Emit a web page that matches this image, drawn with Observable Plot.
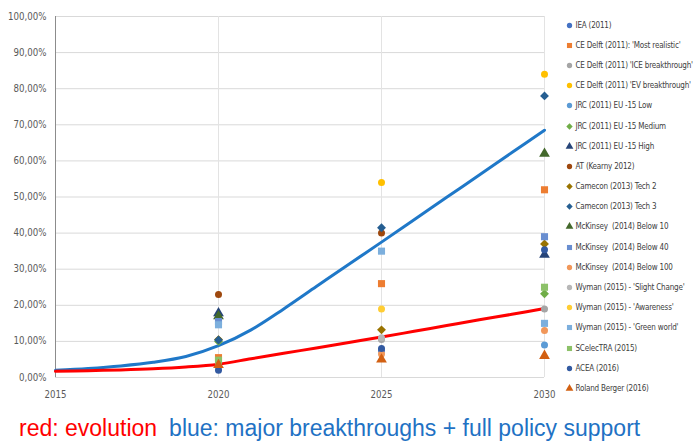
<!DOCTYPE html>
<html>
<head>
<meta charset="utf-8">
<script src="https://cdn.jsdelivr.net/npm/d3@7"></script>
<script src="https://cdn.jsdelivr.net/npm/@observablehq/plot@0.6"></script>
<style>
  body { margin: 0; background: #fff; }
  #wrap { position: relative; width: 694px; height: 441px; overflow: hidden; font-family: "DejaVu Sans Condensed", "DejaVu Sans", sans-serif; font-stretch: condensed; }
  #legend { position: absolute; left: 565px; top: 15px; }
  .row { height: 20.2px; display: flex; align-items: center; white-space: pre; font-size: 8px; letter-spacing: -0.2px; color: #404040; }
  .row svg { margin-right: 1.5px; flex: none; }
  #caption { position: absolute; left: 19px; top: 415px; font-family: "Liberation Sans", Arial, sans-serif; font-stretch: normal; font-size: 23px; line-height: 26px; white-space: nowrap; }
</style>
</head>
<body>
<div id="wrap">
  <div id="chart"></div>
  <div id="legend"></div>
  <div id="caption"><span style="color:#ff0000">red: evolution</span><span style="display:inline-block;width:12px"></span><span style="color:#1f72c4">blue: major breakthroughs + full policy support</span></div>
</div>
<script>
// ---- data ----
const pointYears = [2020, 2025, 2030];
const seriesNames = [
  "IEA (2011)",
  "CE Delft (2011): 'Most realistic'",
  "CE Delft (2011) 'ICE breakthrough'",
  "CE Delft (2011) 'EV breakthrough'",
  "JRC (2011) EU -15 Low",
  "JRC (2011) EU -15 Medium",
  "JRC (2011) EU -15 High",
  "AT (Kearny 2012)",
  "Camecon (2013) Tech 2",
  "Camecon (2013) Tech 3",
  "McKinsey  (2014) Below 10",
  "McKinsey  (2014) Below 40",
  "McKinsey  (2014) Below 100",
  "Wyman (2015) - 'Slight Change'",
  "Wyman (2015) - 'Awareness'",
  "Wyman (2015) - 'Green world'",
  "SCelecTRA (2015)",
  "ACEA (2016)",
  "Roland Berger (2016)"
];
const seriesShapes = ["circle","square","circle","circle","circle","diamond2","triangle","circle","diamond2","diamond2","triangle","square","circle","circle","circle","square","square","circle","triangle"];
const seriesColors = ["#4472c4","#ed7d31","#a5a5a5","#ffc000","#5b9bd5","#70ad47","#264478","#9e480e","#997300","#255e91","#43682b","#698ed0","#f1975a","#b7b7b7","#ffcd33","#7cafdd","#8cc168","#335aa1","#d26012"];
// values in % for 2020, 2025, 2030 (null = no value)
const values2020 = [2.5, 5.5, 3.0, 10.3, 3.5, 10.0, 17.8, 23.0, 10.5, 10.4, 17.0, 15.5, 4.5, 2.5, null, 14.6, 4.8, 2.0, 3.5];
const values2025 = [7.5, 26.0, 10.5, 54.0, null, null, null, 40.0, 13.2, 41.5, null, null, 6.5, 11.0, 19.0, 35.0, null, 8.0, 5.0];
const values2030 = [null, 52.0, 19.0, 84.0, 9.0, 23.2, 34.0, null, 37.0, 78.0, 62.0, 39.0, 13.0, null, null, 15.0, 25.0, 35.4, 6.0];

const lineYears  = [2015, 2016, 2017, 2018, 2019, 2020, 2021, 2022, 2023, 2024, 2025, 2026, 2027, 2028, 2029, 2030];
const redValues  = [1.7, 1.9, 2.1, 2.4, 2.9, 3.7, 5.2, 6.7, 8.2, 9.7, 11.2, 12.8, 14.4, 16.0, 17.5, 19.1];
const blueValues = [2.0, 2.5, 3.2, 4.2, 5.8, 8.8, 13.2, 19.0, 25.2, 31.4, 37.5, 43.7, 49.9, 56.1, 62.3, 68.5];

const xTicks = [2015, 2020, 2025, 2030];
const yTicks = [0, 10, 20, 30, 40, 50, 60, 70, 80, 90, 100];

// ---- build tables ----
const valueCols = [values2020, values2025, values2030];
const seriesTables = seriesNames.map((name, i) =>
  pointYears.map((yr, j) => ({year: yr, value: valueCols[j][i]})).filter(d => d.value != null)
);
const redLine = lineYears.map((yr, i) => ({year: yr, value: redValues[i]}));
const blueLine = lineYears.map((yr, i) => ({year: yr, value: blueValues[i]}));

const fmtPct = d => d.toFixed(2).replace(".", ",") + "%";

const chart = Plot.plot({
  width: 694,
  height: 405,
  marginLeft: 55,
  marginRight: 150,
  marginTop: 16,
  marginBottom: 28,
  style: {fontFamily: "'DejaVu Sans Condensed', 'DejaVu Sans', sans-serif", fontSize: "9.6px", color: "#595959", background: "#fff"},
  x: {domain: [2015, 2030], ticks: xTicks, tickFormat: d => String(d), tickSize: 0, tickPadding: 14, label: null},
  y: {domain: [0, 100], ticks: yTicks, tickFormat: fmtPct, tickSize: 0, tickPadding: 9, label: null},
  marks: [
    Plot.ruleY(yTicks, {stroke: "#d9d9d9", strokeWidth: 1}),
    Plot.ruleX(xTicks.slice(1), {stroke: "#e3e3e3", strokeWidth: 1}),
    Plot.ruleX([2015], {stroke: "#8c8c8c", strokeWidth: 1}),
    Plot.line(blueLine, {x: "year", y: "value", stroke: "#1f78c8", strokeWidth: 3, curve: "catmull-rom"}),
    Plot.line(redLine, {x: "year", y: "value", stroke: "#ff0000", strokeWidth: 3, curve: "catmull-rom"}),
    ...seriesTables.map((t, i) => Plot.dot(t, {
      x: "year", y: "value",
      symbol: seriesShapes[i],
      fill: seriesColors[i],
      stroke: "none",
      r: seriesShapes[i] === "circle" ? 3.5 : 4
    }))
  ]
});
document.getElementById("chart").appendChild(chart);

// ---- legend ----
const legend = document.getElementById("legend");
seriesNames.forEach((name, i) => {
  const row = document.createElement("div");
  row.className = "row";
  const s = d3.create("svg").attr("width", 9).attr("height", 9);
  const sym = {circle: d3.symbolCircle, square: d3.symbolSquare, diamond2: d3.symbolDiamond2, triangle: d3.symbolTriangle}[seriesShapes[i]];
  s.append("path")
    .attr("transform", "translate(4.5,4.5)")
    .attr("d", d3.symbol(sym, seriesShapes[i] === "circle" ? 22 : 26)())
    .attr("fill", seriesColors[i]);
  row.appendChild(s.node());
  const span = document.createElement("span");
  span.textContent = name;
  row.appendChild(span);
  legend.appendChild(row);
});
</script>
</body>
</html>
